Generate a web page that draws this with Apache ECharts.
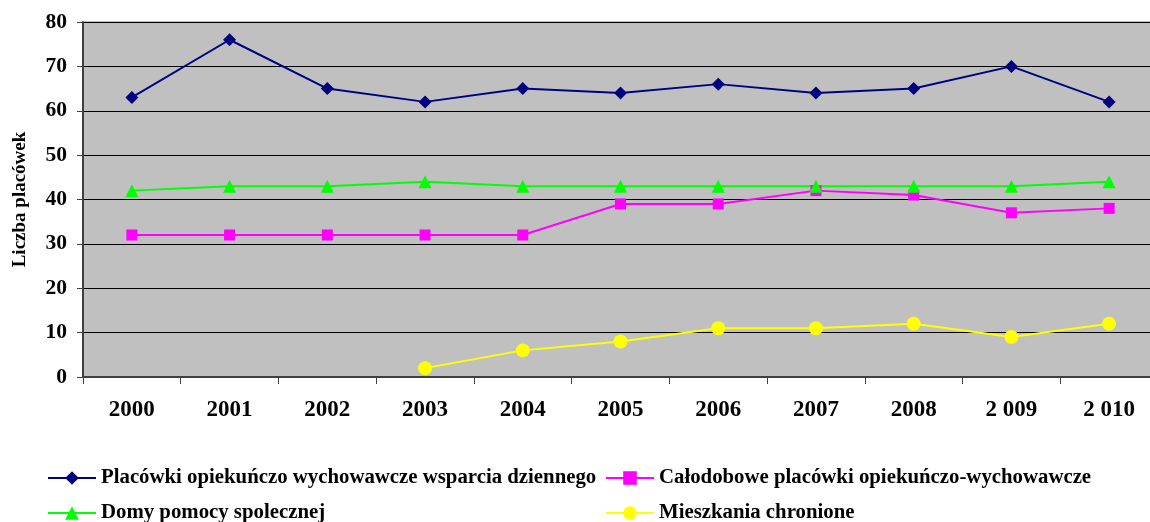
<!DOCTYPE html>
<html><head><meta charset="utf-8">
<script src="https://cdn.jsdelivr.net/npm/echarts@6/dist/echarts.min.js"></script>
<style>html,body{margin:0;padding:0;background:#fff}#c{width:1150px;height:522px}</style>
</head><body><div id="c"></div>
<script>
const categories = ['2000','2001','2002','2003','2004','2005','2006','2007','2008','2 009','2 010'];
const nameDzienne = 'Placówki opiekuńczo wychowawcze wsparcia dziennego';
const nameCalodobowe = 'Całodobowe placówki opiekuńczo-wychowawcze';
const nameDomy = 'Domy pomocy spolecznej';
const nameMieszkania = 'Mieszkania chronione';
const dzienne = [63, 76, 65, 62, 65, 64, 66, 64, 65, 70, 62];
const calodobowe = [32, 32, 32, 32, 32, 39, 39, 42, 41, 37, 38];
const domy = [42, 43, 43, 44, 43, 43, 43, 43, 43, 43, 44];
const mieszkania = [null, null, null, 2, 6, 8, 11, 11, 12, 9, 12];
const yTicks = [0, 10, 20, 30, 40, 50, 60, 70, 80];

const font = 'Liberation Serif';
const chart = echarts.init(document.getElementById('c'));
const legendText = {fontFamily: font, fontWeight: 'bold', fontSize: 20.8, color: '#000', lineHeight: 24};
function leg(name, left, top) {
  return {data: [name], left: left, top: top, itemWidth: 48, itemHeight: 17, itemGap: 0, padding: 0, textStyle: legendText};
}
chart.setOption({
  animation: false,
  grid: {left: 83, top: 22, width: 1075, height: 355, outerBoundsMode: 'none', containLabel: false,
    show: true, backgroundColor: '#c0c0c0', borderColor: '#808080', borderWidth: 1},
  legend: [
    leg(nameDzienne, 47, 466),
    leg(nameDomy, 47, 501),
    leg(nameCalodobowe, 605, 466),
    leg(nameMieszkania, 605, 501)
  ],
  xAxis: {
    type: 'category', data: categories, boundaryGap: true,
    axisLine: {lineStyle: {color: '#404040', width: 2}},
    axisTick: {show: true, length: 7, lineStyle: {color: '#404040'}},
    axisLabel: {fontFamily: font, fontWeight: 'bold', fontSize: 23, color: '#000', margin: 22}
  },
  yAxis: {
    type: 'value', min: 0, max: 80, interval: 10,
    name: 'Liczba placówek', nameLocation: 'middle', nameGap: 53, nameRotate: 90,
    nameTextStyle: {fontFamily: font, fontWeight: 'bold', fontSize: 19, color: '#000'},
    axisLine: {show: true, lineStyle: {color: '#404040', width: 2}},
    axisTick: {show: true, length: 6, lineStyle: {color: '#404040'}},
    axisLabel: {fontFamily: font, fontWeight: 'bold', fontSize: 21.5, color: '#000', margin: 16,
      formatter: v => yTicks.includes(v) ? String(v) : ''},
    splitLine: {lineStyle: {color: '#000', width: 1}}
  },
  series: [
    {name: nameDzienne, type: 'line', data: dzienne, symbol: 'diamond', symbolSize: 13,
      itemStyle: {color: '#000080'}, lineStyle: {color: '#000080', width: 2}},
    {name: nameCalodobowe, type: 'line', data: calodobowe, symbol: 'rect', symbolSize: 11,
      itemStyle: {color: '#ff00ff'}, lineStyle: {color: '#ff00ff', width: 2}},
    {name: nameDomy, type: 'line', data: domy, symbol: 'triangle', symbolSize: 13,
      itemStyle: {color: '#00ff00'}, lineStyle: {color: '#00ff00', width: 2}},
    {name: nameMieszkania, type: 'line', data: mieszkania, symbol: 'circle', symbolSize: 14,
      itemStyle: {color: '#ffff00'}, lineStyle: {color: '#ffff00', width: 2}}
  ]
});
</script></body></html>
